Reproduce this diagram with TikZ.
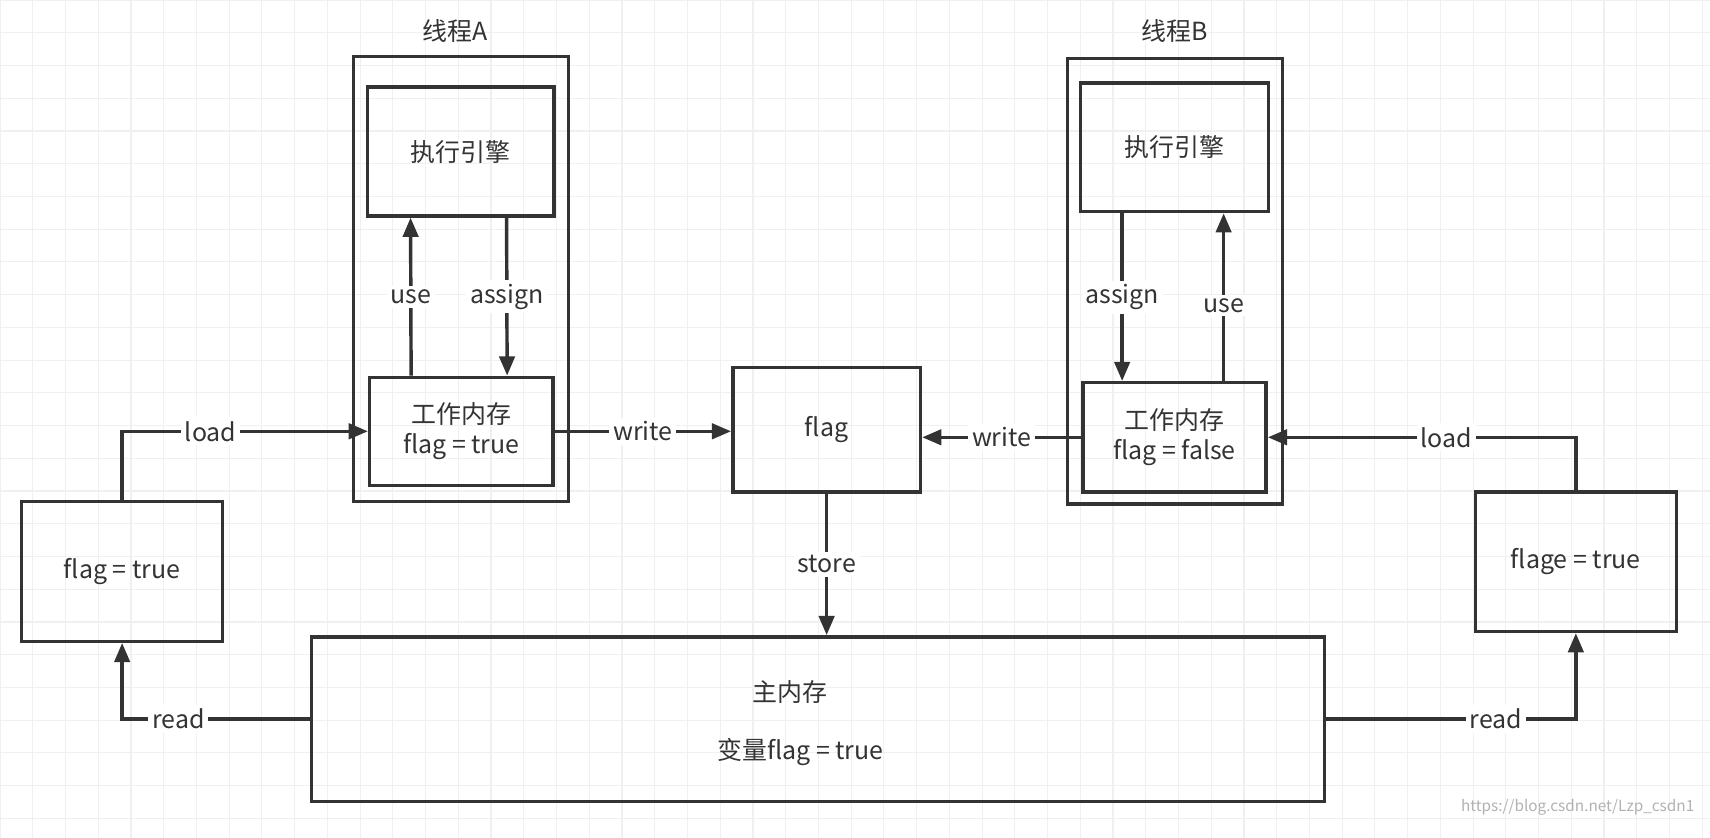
\documentclass[tikz,border=0pt]{standalone}
\usepackage{fontspec}
\setmainfont{Noto Sans CJK SC}
\usetikzlibrary{arrows.meta,positioning}
\definecolor{ink}{HTML}{333333}
\tikzset{
  box/.style={draw=ink, line width=0.9pt, inner sep=0pt, align=center, text=ink},
  conn/.style={draw=ink, line width=0.9pt, -{Triangle[length=5pt,width=4pt]}},
  lbl/.style={fill=white, text=ink, inner sep=1pt}
}
\begin{document}
\begin{tikzpicture}[x=0.01cm, y=-0.01cm, font=\fontsize{6.5}{8}\selectfont]
\useasboundingbox (0,0) rectangle (1568,768);
\fill[white] (0,0) rectangle (1568,768);
% background grid
\draw[black!6, line width=0.3pt, step=0.3cm] (0,0) grid (1568,768);

% thread A
\node[box, minimum width=1.97cm, minimum height=4.08cm] (thA) at (422.5,256) {};
\node[text=ink] (thAlbl) at (417,28) {线程A};
\node[box, minimum width=1.71cm, minimum height=1.18cm] (engA) at (422.5,139) {执行引擎};
\node[box, minimum width=1.68cm, minimum height=0.99cm] (workA) at (423,395.5) {工作内存\\flag = true};

% thread B
\node[box, minimum width=1.97cm, minimum height=4.08cm] (thB) at (1077.5,258) {};
\node[text=ink] (thBlbl) at (1077,28) {线程B};
\node[box, minimum width=1.72cm, minimum height=1.18cm] (engB) at (1077,135) {执行引擎};
\node[box, minimum width=1.68cm, minimum height=1.0cm] (workB) at (1077,401) {工作内存\\flag = false};

% middle and sides
\node[box, minimum width=1.72cm, minimum height=1.14cm] (flag) at (758,394) {flag};
\node[box, minimum width=1.84cm, minimum height=1.28cm] (left) at (112,524) {flag = true};
\node[box, minimum width=1.84cm, minimum height=1.28cm] (right) at (1445,515) {flage = true};
\node[box, minimum width=9.28cm, minimum height=1.51cm] (main) at (750,659.5) {};
\node[text=ink] (mainA) at (724,635) {主内存};
\node[text=ink] (mainB) at (734,690) {变量flag = true};

% connectors thread A
\draw[conn] ([xshift=-0.46cm]workA.north) -- node[lbl]{use} ([xshift=-0.46cm]engA.south);
\draw[conn] ([xshift=0.42cm]engA.south) -- node[lbl]{assign} ([xshift=0.42cm]workA.north);
\draw[conn] (workA.east) -- node[lbl, pos=0.5]{write} (flag.west |- workA.east);
% connectors thread B
\draw[conn] ([xshift=-0.48cm]engB.south) -- node[lbl]{assign} ([xshift=-0.48cm]workB.north);
\draw[conn] ([xshift=0.45cm]workB.north) -- node[lbl, pos=0.45]{use} ([xshift=0.45cm]engB.south);
\draw[conn] (workB.west) -- node[lbl]{write} (flag.east |- workB.west);
% load / read / store
\draw[conn] (left.north) |- node[lbl, pos=0.68]{load} (workA.west);
\draw[conn] (right.north) |- node[lbl, pos=0.71]{load} (workB.east);
\draw[conn] (flag.south) -- node[lbl]{store} (flag.south |- main.north);
\draw[conn] (main.west) -| node[lbl, pos=0.35]{read} (left.south);
\draw[conn] (main.east) -| node[lbl, pos=0.34]{read} (right.south);

\node[text=black!30, font=\fontsize{4}{5}\selectfont, anchor=south east] (wm) at (1566,760) {https://blog.csdn.net/Lzp\_csdn1};
\end{tikzpicture}
\end{document}
